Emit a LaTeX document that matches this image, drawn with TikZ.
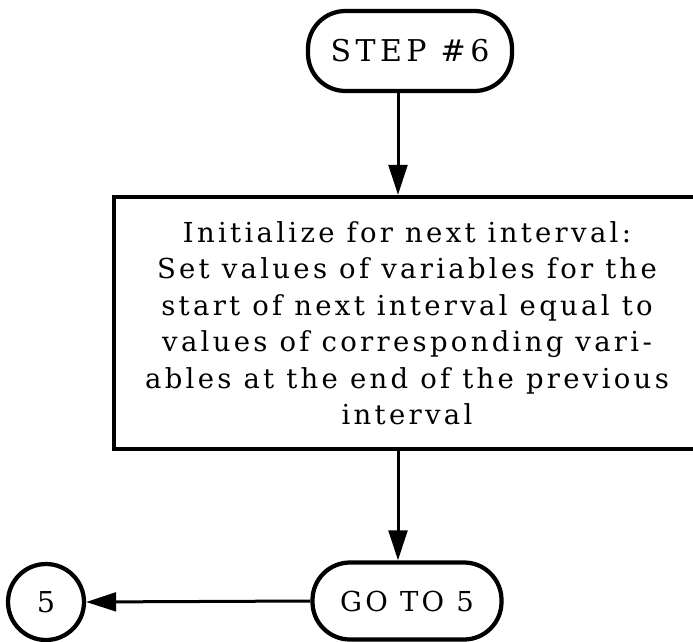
\documentclass[tikz,border=0pt]{standalone}
\usepackage{fontspec}
\setmainfont[LetterSpace=12]{DejaVu Serif}
\usepackage{tikz}
\usetikzlibrary{arrows.meta}

\begin{document}
\begin{tikzpicture}[x=0.4pt, y=0.4pt,
    term/.style={rectangle, draw, line width=1.7pt, rounded corners=15pt, text centered},
    proc/.style={rectangle, draw, line width=1.7pt, align=center, minimum width=234.4pt, minimum height=100.8pt, font=\fontsize{11}{14.6}\selectfont},
    conn/.style={circle, draw, line width=1.7pt, minimum size=30.4pt, inner sep=0pt, font=\fontsize{11.5}{13}\selectfont},
    flow/.style={-{Triangle[length=12pt,width=7.5pt]}, line width=1.2pt}
]
    \useasboundingbox (0,0) rectangle (693,641);

    % Nodes
    \node[term, minimum width=81.6pt, minimum height=32pt, font=\addfontfeature{LetterSpace=15}\fontsize{12}{14}\selectfont] (step) at (410,590) {STEP \#6};
    \node[proc] (init) at (407,318) {Initialize for next interval:\\
        Set values of variables for the\\
        start of next interval equal to\\
        values of corresponding vari-\\
        ables at the end of the previous\\
        interval};
    \node[term, minimum width=75.6pt, minimum height=30.8pt, font=\fontsize{11}{13}\selectfont] (goto) at (407,40) {GO TO 5};
    \node[conn] (five) at (46,39) {5};

    % Flow lines
    \draw[flow] ([xshift=-4.8pt]step.south) -- ([xshift=-4.8pt]step.south |- init.north);
    \draw[flow] ([xshift=-3.6pt]init.south) -- ([xshift=-3.6pt]init.south |- goto.north);
    \draw[flow] (goto.west) -- (five.east);
\end{tikzpicture}
\end{document}
